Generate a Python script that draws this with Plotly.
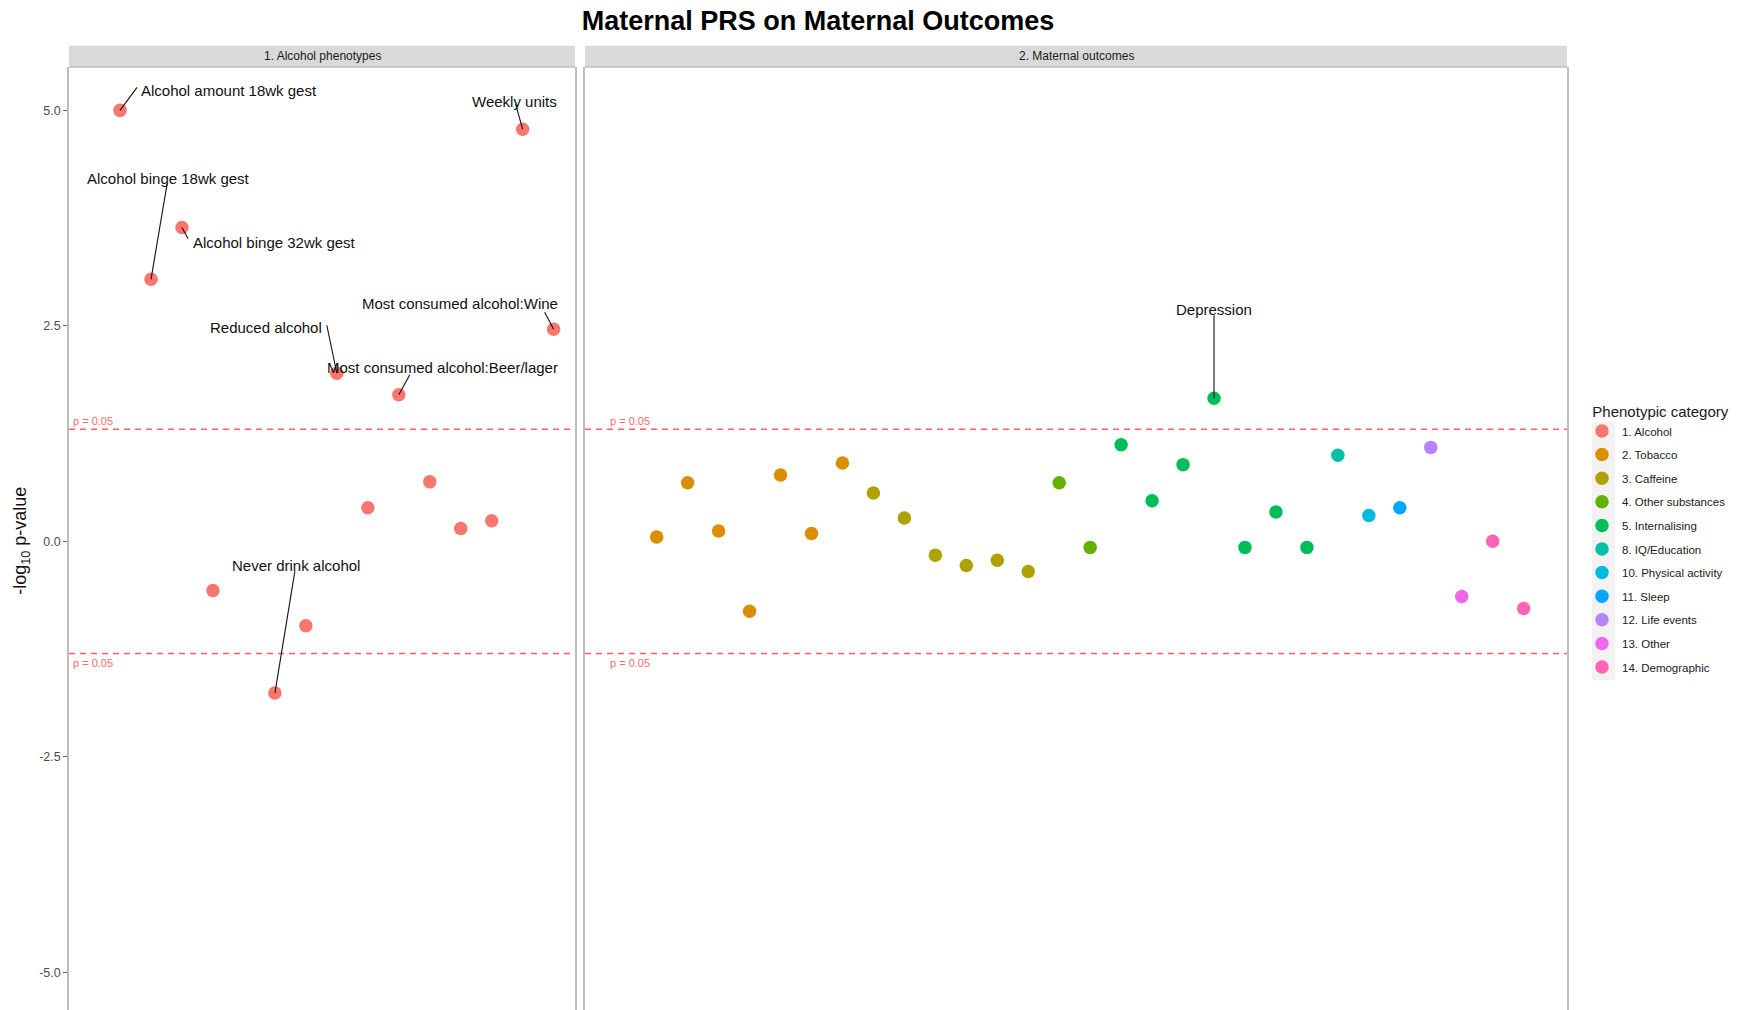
import math
import plotly.graph_objects as go

# ---------------- data ----------------
TITLE = "Maternal PRS on Maternal Outcomes"
PANEL_TITLES = ["1. Alcohol phenotypes", "2. Maternal outcomes"]
P_THRESHOLD = 0.05

CATEGORIES = ["1. Alcohol", "2. Tobacco", "3. Caffeine", "4. Other substances",
              "5. Internalising", "8. IQ/Education", "10. Physical activity",
              "11. Sleep", "12. Life events", "13. Other", "14. Demographic"]
CAT_COLORS = ["#F8766D", "#DB8E00", "#AEA200", "#64B200", "#00BD5C", "#00C1A7",
              "#00BADE", "#00A6FF", "#B385FF", "#EF67EB", "#FF63B6"]

# Panel 1: alcohol phenotypes
alc_index = [1, 2, 3, 4, 6, 7, 8, 9, 10, 11, 12, 13, 14, 15]
alc_logp = [5.00, 3.04, 3.64, -0.57, -1.76, -0.98, 1.95, 0.39, 1.70, 0.69,
            0.15, 0.24, 4.78, 2.46]
alc_label = ["Alcohol amount 18wk gest", "Alcohol binge 18wk gest",
             "Alcohol binge 32wk gest", "", "Never drink alcohol", "",
             "Reduced alcohol", "", "Most consumed alcohol:Beer/lager", "", "", "",
             "Weekly units", "Most consumed alcohol:Wine"]

# Panel 2: maternal outcomes
mat_index = [1, 2, 3, 4, 5, 6, 7, 8, 9, 10, 11, 12, 13, 14, 15, 16, 17, 18, 19,
             20, 21, 22, 23, 24, 25, 26, 27, 28, 29]
mat_logp = [0.05, 0.68, 0.12, -0.81, 0.77, 0.09, 0.91,
            0.56, 0.27, -0.16, -0.28, -0.22, -0.35,
            0.68, -0.07,
            1.12, 0.47, 0.89, 1.66, -0.07, 0.34, -0.07,
            1.00, 0.30, 0.39, 1.09, -0.64, 0.00, -0.78]
mat_category = (["2. Tobacco"] * 7 + ["3. Caffeine"] * 6 + ["4. Other substances"] * 2
                + ["5. Internalising"] * 7 + ["8. IQ/Education", "10. Physical activity",
                   "11. Sleep", "12. Life events", "13. Other",
                   "14. Demographic", "14. Demographic"])
mat_label = [""] * 18 + ["Depression"] + [""] * 10

# label placement (styling): text-centre offset and segment end offset, px from point
label_text_offset = {"Alcohol amount 18wk gest": (109, -20),
                     "Alcohol binge 18wk gest": (17, -101),
                     "Alcohol binge 32wk gest": (93, 15),
                     "Never drink alcohol": (21, -128),
                     "Reduced alcohol": (-71, -46),
                     "Most consumed alcohol:Beer/lager": (44, -27),
                     "Weekly units": (-8, -28),
                     "Most consumed alcohol:Wine": (-94, -26),
                     "Depression": (0, -89)}
label_segment_end = {"Alcohol amount 18wk gest": (17, -23),
                     "Alcohol binge 18wk gest": (16, -95),
                     "Alcohol binge 32wk gest": (6, 11),
                     "Never drink alcohol": (20, -122),
                     "Reduced alcohol": (-10, -48),
                     "Most consumed alcohol:Beer/lager": (11, -20),
                     "Weekly units": (-7, -25),
                     "Most consumed alcohol:Wine": (-9, -17),
                     "Depression": (0, -83)}

Y_TICKS = [-5.0, -2.5, 0.0, 2.5, 5.0]
Y_TICKTEXT = ["-5.0", "-2.5", "0.0", "2.5", "5.0"]

# ---------------- figure ----------------
FONT = "Liberation Sans, Arial, Helvetica, sans-serif"
W, H = 1743, 1010
ML, MR, MT, MB = 69, 176, 67, 0
PW = W - ML - MR
PH = H - MT - MB

fig = go.Figure()

for cat, col in zip(CATEGORIES, CAT_COLORS):
    if cat == "1. Alcohol":
        xs, ys = alc_index, alc_logp
        axis = "x"
    else:
        xs = [i for i, c in zip(mat_index, mat_category) if c == cat]
        ys = [v for v, c in zip(mat_logp, mat_category) if c == cat]
        axis = "x2"
    fig.add_trace(go.Scatter(
        x=xs, y=ys, mode="markers", name=cat, legendgroup=cat,
        xaxis=axis, yaxis="y" if axis == "x" else "y2",
        marker=dict(size=13.5, color=col, line=dict(width=0)),
        hoverinfo="skip"))

thr = -math.log10(P_THRESHOLD)

dom1 = [0, 506 / PW]
dom2 = [516 / PW, 1]

axis_common = dict(showgrid=False, zeroline=False)
fig.update_layout(
    width=W, height=H,
    margin=dict(l=ML, r=MR, t=MT, b=MB, pad=0),
    paper_bgcolor="white", plot_bgcolor="white",
    font=dict(family=FONT, color="#1a1a1a"),
    title=dict(text="<b>" + TITLE + "</b>", x=0.5, xref="paper", xanchor="center",
               y=1 - 21 / H, yref="container", yanchor="middle",
               font=dict(size=27, color="black", family=FONT)),
    xaxis=dict(domain=dom1, range=[-0.648, 15.69], showticklabels=False, ticks="",
               showline=False, **axis_common),
    xaxis2=dict(domain=dom2, range=[-1.315, 30.40], showticklabels=False, ticks="",
                showline=False, **axis_common),
    yaxis=dict(range=[-5.437, 5.503], tickvals=Y_TICKS, ticktext=Y_TICKTEXT,
               ticks="outside", ticklen=4, tickwidth=1, tickcolor="#666666",
               tickfont=dict(size=12.5, color="#4d4d4d", family=FONT),
               showline=True, mirror=True, linecolor="#bdbdbd", linewidth=1.5,
               **axis_common),
    yaxis2=dict(anchor="x2", matches="y", range=[-5.437, 5.503], showticklabels=False,
                ticks="", showline=True, mirror=True, linecolor="#bdbdbd",
                linewidth=1.5, **axis_common),
    showlegend=True,
    legend=dict(title=dict(text="\u00a0\u00a0Phenotypic category",
                           font=dict(size=15, color="#1a1a1a")),
                font=dict(size=11.5, color="#1a1a1a"),
                x=(1582 - ML) / PW, xanchor="left",
                y=1 - (397 - MT) / PH, yanchor="top",
                tracegroupgap=4.6, bgcolor="rgba(0,0,0,0)", borderwidth=0,
                itemsizing="trace"),
)

shapes = []
annotations = []
for i, (xr, yr) in enumerate([("x", "y"), ("x2", "y2")]):
    # strip
    shapes.append(dict(type="rect", xref=xr + " domain", yref="paper",
                       x0=0, x1=1, y0=1, y1=1 + 21.3 / PH,
                       fillcolor="#d9d9d9", line=dict(width=0), layer="below"))
    shapes.append(dict(type="line", xref=xr + " domain", yref="paper",
                       x0=0, x1=1, y0=1, y1=1, line=dict(color="#bdbdbd", width=1.5)))
    annotations.append(dict(text=PANEL_TITLES[i], xref=xr + " domain", yref="paper",
                            x=0.5, y=1 + 10.65 / PH, xanchor="center", yanchor="middle",
                            showarrow=False, font=dict(size=12, color="#1a1a1a")))
    # significance lines
    for s in (1, -1):
        shapes.append(dict(type="line", xref=xr + " domain", yref=yr,
                           x0=0, x1=1, y0=s * thr, y1=s * thr,
                           line=dict(color="#ff5f5f", width=1.5, dash="6px,5px")))
        annotations.append(dict(text="p = 0.05", xref=xr, yref=yr, x=-0.57, y=s * thr,
                                xanchor="left", yanchor="middle",
                                yshift=8 if s > 0 else -10, showarrow=False,
                                font=dict(size=11, color="#ff6b6b")))


def add_label(xv, yv, lab, xr, yr):
    tx, ty = label_text_offset[lab]
    sx, sy = label_segment_end[lab]
    # repel-style segment from point to label
    shapes.append(dict(type="line", xref=xr, yref=yr,
                       xsizemode="pixel", ysizemode="pixel",
                       xanchor=xv, yanchor=yv, x0=0, x1=sx, y0=0, y1=-sy,
                       line=dict(color="#111111", width=1.1), layer="above"))
    annotations.append(dict(text=lab, x=xv, y=yv, xref=xr, yref=yr,
                            xshift=tx, yshift=-ty, xanchor="center", yanchor="middle",
                            showarrow=False, font=dict(size=15, color="#111111")))


for xv, yv, lab in zip(alc_index, alc_logp, alc_label):
    if lab:
        add_label(xv, yv, lab, "x", "y")
for xv, yv, lab in zip(mat_index, mat_logp, mat_label):
    if lab:
        add_label(xv, yv, lab, "x2", "y2")

# y-axis title
annotations.append(dict(text="-log<sub>10</sub> p-value", xref="paper", yref="y",
                        x=(21.5 - ML) / PW, y=0, xanchor="center", yanchor="middle",
                        textangle=-90, showarrow=False,
                        font=dict(size=18, color="#111111")))

# legend key background
shapes.append(dict(type="rect", xref="paper", yref="paper",
                   x0=(1591.7 - ML) / PW, x1=(1615 - ML) / PW,
                   y0=1 - (680 - MT) / PH, y1=1 - (421.7 - MT) / PH,
                   fillcolor="#f2f2f2", line=dict(width=0), layer="below"))

fig.update_layout(shapes=shapes, annotations=annotations)

fig.write_html("out.html", config={"displayModeBar": False},
               post_script="document.body.style.margin='0';document.body.style.overflow='hidden';")
